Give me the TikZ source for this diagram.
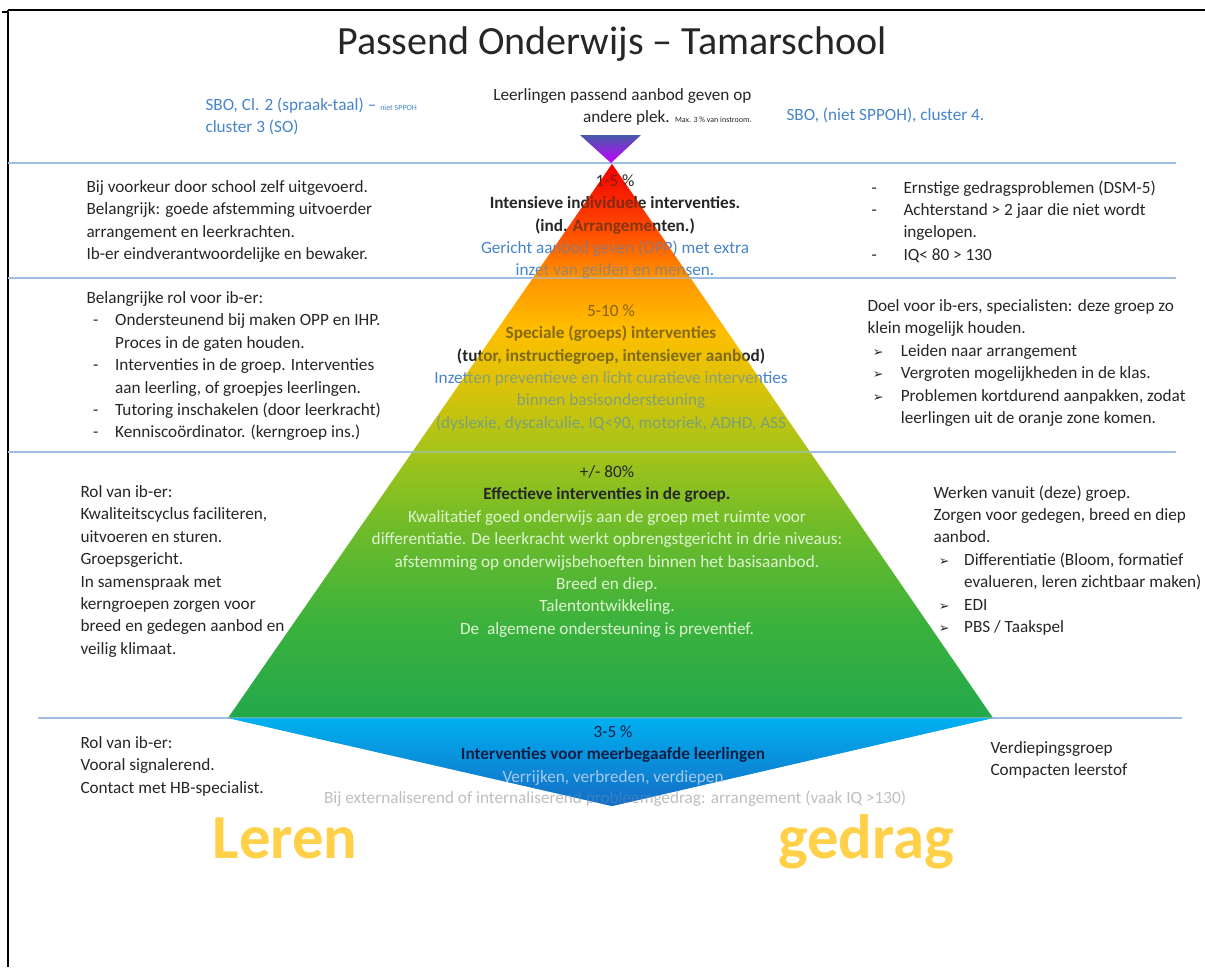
\documentclass[tikz,border=0pt]{standalone}
\usepackage{fontspec}
\setmainfont{Carlito}
\newfontfamily\dejavu{DejaVu Sans}

\definecolor{txtgray}{RGB}{38,38,38}
\definecolor{sboblue}{RGB}{70,132,204}
\definecolor{sepblue}{RGB}{160,190,225}
\definecolor{lightgreen}{RGB}{222,244,208}
\definecolor{lightgray}{RGB}{190,190,190}
\definecolor{verrijk}{RGB}{165,200,235}
\definecolor{lerengold}{RGB}{255,208,72}
% pyramid colours, bottom to top
\definecolor{pyrA}{RGB}{35,168,75}
\definecolor{pyrB}{RGB}{60,178,60}
\definecolor{pyrC}{RGB}{115,188,40}
\definecolor{pyrD}{RGB}{165,196,25}
\definecolor{pyrE}{RGB}{215,195,10}
\definecolor{pyrF}{RGB}{255,190,0}
\definecolor{pyrG}{RGB}{255,150,0}
\definecolor{pyrH}{RGB}{255,90,0}
\definecolor{pyrI}{RGB}{250,40,0}
\definecolor{pyrJ}{RGB}{240,0,0}
\pgfdeclareverticalshading{pyramidshade}{100bp}{color(0bp)=(pyrA); color(25bp)=(pyrA); color(33.8bp)=(pyrB); color(42.8bp)=(pyrC); color(49.1bp)=(pyrD); color(54.5bp)=(pyrE); color(60bp)=(pyrF); color(64.6bp)=(pyrG); color(68.1bp)=(pyrH); color(71.7bp)=(pyrI); color(75bp)=(pyrJ); color(100bp)=(pyrJ)}

\newcommand{\arrbul}{{\dejavu\fontsize{9.5}{9.5}\selectfont ➢}}

\tikzset{every picture/.style={line width=0.75pt}}
\tikzset{
  bodytxt/.style={anchor=north west, inner sep=0.75pt, align=left, text=txtgray, font=\fontsize{12.9}{16.8}\selectfont},
  midtxt/.style={anchor=north, inner sep=0.75pt, align=center, text=txtgray, font=\fontsize{12.9}{16.8}\selectfont},
  sepline/.style={draw=sepblue, line width=1.1pt},
  bigword/.style={anchor=base, inner sep=0pt, text=lerengold, font=\fontsize{47}{47}\selectfont\bfseries},
}

\begin{document}
\begin{tikzpicture}[x=0.75pt,y=0.75pt,yscale=-1,xscale=1]
\useasboundingbox (0,0) rectangle (1205,967);

%Frame
\draw [line width=1.5pt] (8,10) -- (8,967) ;
\draw [line width=1.1pt] (8,10) -- (1205,10) ;
\draw [line width=1.5pt] (2,12) -- (8,12) ;

%Corner points
\coordinate (apex) at (612,164) ;
\coordinate (baseL) at (228,718) ;
\coordinate (baseR) at (993,718) ;
\coordinate (tipB) at (612,806) ;
\coordinate (purL) at (580,135) ;
\coordinate (purR) at (641,135) ;
\coordinate (purT) at (611,163) ;

%Pyramid (opaque pass)
\shade [shading=pyramidshade] (apex) -- (baseL) -- (baseR) -- cycle ;
\shade [top color={rgb,255:red,0;green,176;blue,240}, bottom color={rgb,255:red,20;green,108;blue,196}] (baseL) -- (baseR) -- (tipB) -- cycle ;

%Straight Lines
\draw [sepline] (8,163) -- (1176,163) ;
\draw [sepline] (8,278) -- (1176,278) ;
\draw [sepline] (8,452) -- (1176,452) ;
\draw [sepline] (38,718) -- (1182,718) ;

% Title
\draw (612,44) node [inner sep=0.75pt, text=txtgray, font=\fontsize{30}{33}\selectfont] (title) {Passend Onderwijs -- Tamarschool};

% Text Node
\draw (204,96) node [bodytxt, text=sboblue] (sboLeft) {SBO, Cl. 2 (spraak-taal) -- {\fontsize{6}{7}\selectfont niet SPPOH}\\cluster 3 (SO)};
% Text Node
\draw (753,87) node [anchor=north east, inner sep=0.75pt, align=right, text=txtgray, font=\fontsize{12.9}{16.8}\selectfont] (elders) {Leerlingen passend aanbod geven op\\andere plek. {\fontsize{6}{7}\selectfont Max. 3 \% van instroom.}};
% Text Node
\draw (785,106) node [bodytxt, text=sboblue] (sboRight) {SBO, (niet SPPOH), cluster 4.};

% Text Node
\draw (85,179) node [bodytxt] (ibIntensief) {Bij voorkeur door school zelf uitgevoerd.\\Belangrijk: goede afstemming uitvoerder\\arrangement en leerkrachten.\\Ib-er eindverantwoordelijke en bewaker.};
% Text Node
\draw (870,179) node [bodytxt] (critIntensief) {\makebox[24pt][l]{-}Ernstige gedragsproblemen (DSM-5)\\\makebox[24pt][l]{-}Achterstand > 2 jaar die niet wordt\\\hspace*{24pt}ingelopen.\\\makebox[24pt][l]{-}IQ< 80 > 130};

% Text Node
\draw (85,290) node [bodytxt] (ibSpeciaal) {Belangrijke rol voor ib-er:\\\hspace*{5pt}\makebox[16.5pt][l]{-}Ondersteunend bij maken OPP en IHP.\\\hspace*{21.5pt}Proces in de gaten houden.\\\hspace*{5pt}\makebox[16.5pt][l]{-}Interventies in de groep. Interventies\\\hspace*{21.5pt}aan leerling, of groepjes leerlingen.\\\hspace*{5pt}\makebox[16.5pt][l]{-}Tutoring inschakelen (door leerkracht)\\\hspace*{5pt}\makebox[16.5pt][l]{-}Kenniscoördinator. (kerngroep ins.)};
% Text Node
\draw (866,298) node [bodytxt] (doelSpeciaal) {Doel voor ib-ers, specialisten: deze groep zo\\klein mogelijk houden.\\\hspace*{4pt}\makebox[21pt][l]{\arrbul}Leiden naar arrangement\\\hspace*{4pt}\makebox[21pt][l]{\arrbul}Vergroten mogelijkheden in de klas.\\\hspace*{4pt}\makebox[21pt][l]{\arrbul}Problemen kortdurend aanpakken, zodat\\\hspace*{25pt}leerlingen uit de oranje zone komen.};

% Text Node
\draw (79,484) node [bodytxt] (ibGroep) {Rol van ib-er:\\Kwaliteitscyclus faciliteren,\\uitvoeren en sturen.\\Groepsgericht.\\In samenspraak met\\kerngroepen zorgen voor\\breed en gedegen aanbod en\\veilig klimaat.};
% Text Node
\draw (932,484) node [bodytxt] (werkGroep) {Werken vanuit (deze) groep.\\Zorgen voor gedegen, breed en diep\\aanbod.\\\hspace*{4pt}\makebox[19pt][l]{\arrbul}Differentiatie (Bloom, formatief\\\hspace*{23pt}evalueren, leren zichtbaar maken)\\\hspace*{4pt}\makebox[19pt][l]{\arrbul}EDI\\\hspace*{4pt}\makebox[19pt][l]{\arrbul}PBS / Taakspel};

% Text Node
\draw (79,735) node [bodytxt] (ibMeer) {Rol van ib-er:\\Vooral signalerend.\\Contact met HB-specialist.};
% Text Node
\draw (989,740) node [bodytxt] (verdiep) {Verdiepingsgroep\\Compacten leerstof};

% Text Node (under the pyramid)
\draw (615,173) node [midtxt] (midIntensief) {1-5 \%\\\textbf{Intensieve individuele interventies.}\\\textbf{(ind. Arrangementen.)}\\\textcolor{sboblue}{Gericht aanbod geven (OPP) met extra}\\\textcolor{sboblue}{inzet van gelden en mensen.}};
% Text Node (under the pyramid)
\draw (611,303) node [midtxt] (midSpeciaal) {5-10 \%\\\textbf{Speciale (groeps) interventies}\\\textbf{(tutor, instructiegroep, intensiever aanbod)}\\\textcolor{sboblue}{Inzetten preventieve en licht curatieve interventies}\\\textcolor{sboblue}{binnen basisondersteuning}\\\textcolor{sboblue}{(dyslexie, dyscalculie, IQ<90, motoriek, ADHD, ASS}};
% Text Node (under the pyramid)
\draw (615,789) node [midtxt, text=lightgray] (probleem) {Bij externaliserend of internaliserend probleemgedrag: arrangement (vaak IQ >130)};

%Pyramid (see-through pass)
\shade [shading=pyramidshade, fill opacity=0.45] (apex) -- (baseL) -- (baseR) -- cycle ;
\shade [top color={rgb,255:red,0;green,176;blue,240}, bottom color={rgb,255:red,20;green,108;blue,196}, fill opacity=0.8] (baseL) -- (baseR) -- (tipB) -- cycle ;
\shade [top color={rgb,255:red,70;green,90;blue,170}, bottom color={rgb,255:red,195;green,0;blue,255}] (purL) -- (purR) -- (purT) -- cycle ;

% Text Node
\draw (607,464) node [midtxt] (midGroep) {+/- 80\%\\\textbf{Effectieve interventies in de groep.}\\\textcolor{lightgreen}{Kwalitatief goed onderwijs aan de groep met ruimte voor}\\\textcolor{lightgreen}{differentiatie. De leerkracht werkt opbrengstgericht in drie niveaus:}\\\textcolor{lightgreen}{afstemming op onderwijsbehoeften binnen het basisaanbod.}\\\textcolor{lightgreen}{Breed en diep.}\\\textcolor{lightgreen}{Talentontwikkeling.}\\\textcolor{lightgreen}{De\ \ algemene ondersteuning is preventief.}};
% Text Node
\draw (613,724) node [midtxt, text={rgb,255:red,15;green,30;blue,70}] (midMeer) {3-5 \%\\\textbf{Interventies voor meerbegaafde leerlingen}\\\textcolor{verrijk}{Verrijken, verbreden, verdiepen}};

% Text Node
\draw (285,858) node [bigword] (leren) {Leren};
% Text Node
\draw (866,858) node [bigword] (gedrag) {gedrag};

\end{tikzpicture}
\end{document}
